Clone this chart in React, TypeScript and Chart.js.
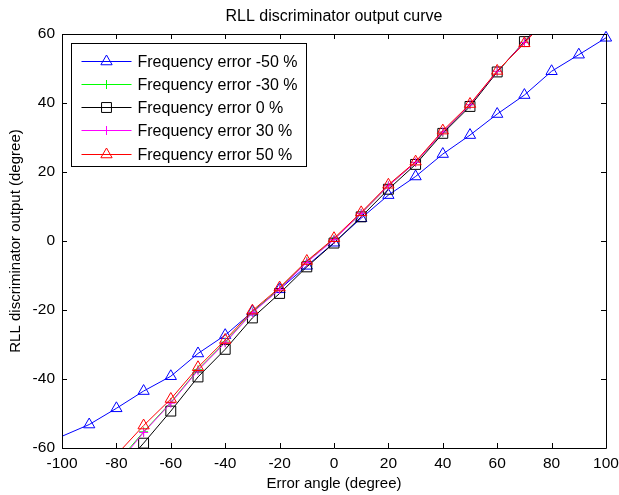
import React, { useEffect, useRef } from "react";
import { Chart, registerables } from "chart.js";

Chart.register(...registerables);

const TITLE = "RLL discriminator output curve";
const X_LABEL = "Error angle (degree)";
const Y_LABEL = "RLL discriminator output (degree)";

const xTicks = [-100, -80, -60, -40, -20, 0, 20, 40, 60, 80, 100];
const yTicks = [-60, -40, -20, 0, 20, 40, 60];

// -50 % series (first point lies left of the visible range)
const anglesMinus50 = [-110, -90, -80, -70, -60, -50, -40, -30, -20, -10, 0, 10, 20, 30, 40, 50, 60, 70, 80, 90, 100];
const outputMinus50 = [-60, -53.2, -48.5, -43.5, -39.2, -32.6, -27.3, -20.5, -14, -7.2, -0.5, 6.6, 13.3, 18.7, 25.2, 30.7, 36.8, 42.3, 49.2, 54, 58.9];

const anglesSteep = [-80, -70, -60, -50, -40, -30, -20, -10, 0, 10, 20, 30, 40, 50, 60, 70, 80];
const outputMinus30 = [-64.5, -55.3, -46.8, -37.3, -29.3, -20.6, -13.8, -6, 0.5, 8, 16, 22.8, 31.5, 39.5, 49.1, 57.6, 66];
const output0 = [-67.5, -58.6, -49.3, -39.4, -31.4, -22.3, -15.2, -7.5, -0.6, 7, 15, 22.2, 31.2, 39, 49, 57.8, 66.5];
const output30 = [-65, -55.5, -47, -37.5, -29.5, -20.8, -14, -6.2, 0.4, 8, 16, 22.8, 31.6, 39.5, 49.2, 57.5, 66];
const output50 = [-62, -53.5, -45.8, -36.6, -28.7, -20.2, -13.5, -5.8, 0.8, 8.3, 16.3, 23, 32, 39.7, 49.3, 57.3, 66];

const seriesLabels = [
  "Frequency error -50 %",
  "Frequency error -30 %",
  "Frequency error 0 %",
  "Frequency error 30 %",
  "Frequency error 50 %",
];

const FONT_FAMILY = "'Liberation Sans', Arial, Helvetica, sans-serif";

const toPoints = (xs: number[], ys: number[]) => xs.map((x, i) => ({ x, y: ys[i] }));

function drawMarker(ctx: CanvasRenderingContext2D, style: string, x: number, y: number, r: number) {
  ctx.beginPath();
  if (style === "triangle") {
    ctx.moveTo(x, y - r);
    ctx.lineTo(x + r * Math.sin((2 * Math.PI) / 3), y - r * Math.cos((2 * Math.PI) / 3));
    ctx.lineTo(x + r * Math.sin((4 * Math.PI) / 3), y - r * Math.cos((4 * Math.PI) / 3));
    ctx.closePath();
  } else if (style === "rect") {
    const s = Math.SQRT1_2 * r;
    ctx.rect(x - s, y - s, 2 * s, 2 * s);
  } else if (style === "cross") {
    ctx.moveTo(x, y - r);
    ctx.lineTo(x, y + r);
    ctx.moveTo(x - r, y);
    ctx.lineTo(x + r, y);
  }
  ctx.stroke();
}

const framePlugin = {
  id: "matlabFrame",
  afterDatasetsDraw(chart: any) {
    const { ctx, chartArea } = chart;
    const { left, right, top, bottom } = chartArea;
    const xs = chart.scales.x;
    const ys = chart.scales.y;
    const tl = 5;
    ctx.save();
    ctx.strokeStyle = "#000";
    ctx.lineWidth = 1;
    ctx.beginPath();
    ctx.rect(Math.round(left) + 0.5, Math.round(top) + 0.5, Math.round(right - left), Math.round(bottom - top));
    ctx.stroke();
    ctx.beginPath();
    xTicks.forEach((v) => {
      const px = Math.round(xs.getPixelForValue(v)) + 0.5;
      ctx.moveTo(px, bottom);
      ctx.lineTo(px, bottom - tl);
      ctx.moveTo(px, top);
      ctx.lineTo(px, top + tl);
    });
    yTicks.forEach((v) => {
      const py = Math.round(ys.getPixelForValue(v)) + 0.5;
      ctx.moveTo(left, py);
      ctx.lineTo(left + tl, py);
      ctx.moveTo(right, py);
      ctx.lineTo(right - tl, py);
    });
    ctx.stroke();
    ctx.restore();
  },
};

const legendPlugin = {
  id: "matlabLegend",
  afterDraw(chart: any) {
    const { ctx, chartArea } = chart;
    const bx = Math.round(chartArea.left + 9) + 0.5;
    const by = Math.round(chartArea.top + 9) + 0.5;
    const bw = 235;
    const bh = 123;
    ctx.save();
    ctx.fillStyle = "#fff";
    ctx.fillRect(bx, by, bw, bh);
    ctx.strokeStyle = "#000";
    ctx.lineWidth = 1;
    ctx.strokeRect(bx, by, bw, bh);
    ctx.font = `16px ${FONT_FAMILY}`;
    ctx.textBaseline = "middle";
    ctx.textAlign = "left";
    chart.data.datasets.forEach((ds: any, i: number) => {
      const cy = Math.round(by + 17 + i * 23.3) + 0.5;
      ctx.strokeStyle = ds.borderColor;
      ctx.lineWidth = 1;
      ctx.beginPath();
      ctx.moveTo(bx + 10, cy);
      ctx.lineTo(bx + 60, cy);
      ctx.stroke();
      drawMarker(ctx, ds.pointStyle, bx + 35, cy, ds.pointRadius);
      ctx.fillStyle = "#000";
      ctx.fillText(ds.label, bx + 66, cy + 1);
    });
    ctx.restore();
  },
};

export default function App() {
  const canvasRef = useRef<HTMLCanvasElement>(null);

  useEffect(() => {
    const canvas = canvasRef.current;
    if (!canvas) return;
    const titleFont = { family: FONT_FAMILY, size: 16, weight: "normal" as const };
    const axisTitleFont = { family: FONT_FAMILY, size: 15, weight: "normal" as const };
    const tickFont = { family: FONT_FAMILY, size: 15.5, weight: "normal" as const };
    const common = {
      borderWidth: 1,
      pointBackgroundColor: "rgba(0,0,0,0)",
      pointBorderWidth: 1,
      pointHoverRadius: 0,
      tension: 0,
      fill: false,
    };
    const steepClip = { left: 0, top: 0, right: 0, bottom: 1 };
    const chart = new Chart(canvas, {
      type: "line",
      data: {
        datasets: [
          {
            ...common,
            label: seriesLabels[0],
            data: toPoints(anglesMinus50, outputMinus50),
            borderColor: "#0000ff",
            pointBorderColor: "#0000ff",
            pointStyle: "triangle",
            pointRadius: 6.5,
            order: 4,
            clip: { left: 0, top: 6, right: 8, bottom: 0 },
          },
          {
            ...common,
            label: seriesLabels[1],
            data: toPoints(anglesSteep, outputMinus30),
            borderColor: "#00ff00",
            pointBorderColor: "#00ff00",
            pointStyle: "cross",
            pointRadius: 4.5,
            order: 3,
            clip: steepClip,
          },
          {
            ...common,
            label: seriesLabels[2],
            data: toPoints(anglesSteep, output0),
            borderColor: "#000000",
            pointBorderColor: "#000000",
            pointStyle: "rect",
            pointRadius: 7,
            order: 2,
            clip: steepClip,
          },
          {
            ...common,
            label: seriesLabels[3],
            data: toPoints(anglesSteep, output30),
            borderColor: "#ff00ff",
            pointBorderColor: "#ff00ff",
            pointStyle: "cross",
            pointRadius: 4.5,
            order: 1,
            clip: steepClip,
          },
          {
            ...common,
            label: seriesLabels[4],
            data: toPoints(anglesSteep, output50),
            borderColor: "#ff0000",
            pointBorderColor: "#ff0000",
            pointStyle: "triangle",
            pointRadius: 6.5,
            order: 0,
            clip: steepClip,
          },
        ] as any,
      },
      options: {
        responsive: false,
        maintainAspectRatio: false,
        animation: false,
        devicePixelRatio: 1,
        events: [],
        layout: { padding: { left: 0, right: 13, top: 0, bottom: 0 } },
        plugins: {
          legend: { display: false },
          tooltip: { enabled: false },
          title: {
            display: true,
            fullSize: false,
            text: TITLE,
            color: "#000",
            font: titleFont,
            padding: { top: 7, bottom: 7.8 },
          },
        },
        scales: {
          x: {
            type: "linear",
            min: -100,
            max: 100,
            afterBuildTicks: (s: any) => {
              s.ticks = xTicks.map((v) => ({ value: v }));
            },
            ticks: { color: "#000", font: tickFont, padding: 6, maxRotation: 0, autoSkip: false },
            grid: { display: false, drawTicks: false },
            border: { display: false },
            title: { display: true, text: X_LABEL, color: "#000", font: axisTitleFont, padding: { top: 0, bottom: 2 } },
            afterFit: (s: any) => {
              s.height = 47;
              s.paddingLeft = 0;
              s.paddingRight = 0;
            },
          },
          y: {
            type: "linear",
            min: -60,
            max: 60,
            afterBuildTicks: (s: any) => {
              s.ticks = yTicks.map((v) => ({ value: v }));
            },
            ticks: { color: "#000", font: tickFont, padding: 7, autoSkip: false },
            grid: { display: false, drawTicks: false },
            border: { display: false },
            title: { display: true, text: Y_LABEL, color: "#000", font: axisTitleFont, padding: { top: 7, bottom: 0 } },
            afterFit: (s: any) => {
              s.width = 62;
              s.paddingTop = 0;
              s.paddingBottom = 0;
            },
          },
        },
      } as any,
      plugins: [framePlugin, legendPlugin],
    });
    return () => chart.destroy();
  }, []);

  return (
    <div style={{ position: "absolute", left: 0, top: 0, width: 619, height: 495, background: "#fff" }}>
      <canvas ref={canvasRef} width={619} height={495} style={{ display: "block", width: 619, height: 495 }} />
    </div>
  );
}
